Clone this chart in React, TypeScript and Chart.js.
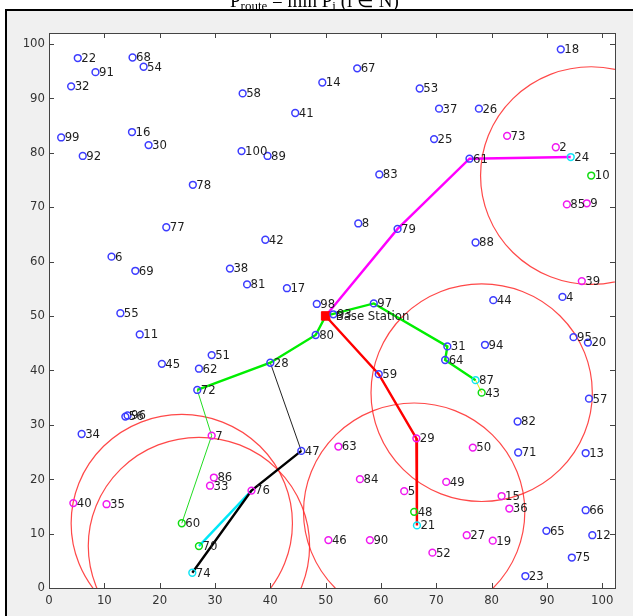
import React, { useEffect, useRef } from "react";
import { Chart, registerables } from "chart.js";

Chart.register(...registerables);

// ---------- data ----------
const xTicks = [0, 10, 20, 30, 40, 50, 60, 70, 80, 90, 100];
const yTicks = [0, 10, 20, 30, 40, 50, 60, 70, 80, 90, 100];

const baseStationX = 50;
const baseStationY = 50;
const baseStationLabel = "Base Station";

const blueIds = ["22", "91", "32", "68", "54", "99", "92", "16", "30", "78", "58", "14", "67", "41", "100", "89", "83", "53", "18", "37", "26", "25", "61", "77", "6", "69", "55", "11", "45", "62", "51", "72", "38", "8", "79", "42", "81", "17", "98", "97", "80", "28", "59", "88", "4", "44", "95", "20", "94", "31", "64", "57", "56", "96", "34", "47", "82", "71", "13", "66", "65", "12", "75", "23", "93"];
const blueX = [5.2, 8.4, 4.0, 15.1, 17.1, 2.2, 6.1, 15.0, 18.0, 26.0, 35.0, 49.4, 55.7, 44.5, 34.8, 39.5, 59.7, 67.0, 92.5, 70.5, 77.7, 69.6, 76.0, 21.2, 11.3, 15.6, 12.9, 16.4, 20.4, 27.1, 29.4, 26.8, 32.7, 55.9, 63.0, 39.1, 35.8, 43.0, 48.4, 58.7, 48.2, 40.0, 59.6, 77.1, 92.8, 80.3, 94.8, 97.4, 78.8, 72.0, 71.6, 97.6, 13.8, 14.2, 5.9, 45.6, 84.7, 84.8, 97.0, 97.0, 89.9, 98.2, 94.5, 86.1, 51.4];
const blueY = [97.4, 94.8, 92.2, 97.5, 95.8, 82.8, 79.4, 83.8, 81.4, 74.1, 90.9, 92.9, 95.5, 87.3, 80.3, 79.4, 76.0, 91.8, 99.0, 88.1, 88.1, 82.5, 78.9, 66.3, 60.9, 58.3, 50.5, 46.6, 41.2, 40.3, 42.8, 36.4, 58.7, 67.0, 66.0, 64.0, 55.8, 55.1, 52.2, 52.3, 46.5, 41.4, 39.3, 63.5, 53.5, 52.9, 46.1, 45.1, 44.7, 44.4, 41.9, 34.8, 31.5, 31.7, 28.3, 25.2, 30.6, 24.9, 24.8, 14.3, 10.5, 9.7, 5.6, 2.2, 50.3];

const magentaIds = ["73", "2", "85", "9", "39", "7", "86", "33", "40", "35", "76", "63", "84", "5", "46", "90", "29", "50", "49", "15", "36", "27", "19", "52"];
const magentaX = [82.8, 91.6, 93.6, 97.2, 96.3, 29.4, 29.8, 29.1, 4.4, 10.4, 36.6, 52.3, 56.2, 64.2, 50.5, 58.0, 66.4, 76.6, 71.8, 81.8, 83.2, 75.5, 80.2, 69.3];
const magentaY = [83.1, 81.0, 70.5, 70.7, 56.4, 28.0, 20.3, 18.8, 15.6, 15.4, 17.9, 26.0, 20.0, 17.8, 8.8, 8.8, 27.5, 25.8, 19.5, 16.9, 14.6, 9.7, 8.7, 6.5];

const greenIds = ["10", "43", "48", "60", "70"];
const greenX = [98.0, 78.2, 66.0, 24.0, 27.1];
const greenY = [75.8, 35.9, 14.0, 11.9, 7.7];

const cyanIds = ["24", "87", "21", "74"];
const cyanX = [94.3, 77.1, 66.5, 25.9];
const cyanY = [79.2, 38.2, 11.5, 2.8];

// routes (node id sequences)
const routeMagenta = ["BS", "79", "61", "24"];
const routeGreenRight = ["BS", "97", "31", "64", "87"];
const routeYellow = ["87", "43"];
const routeGreenLeft = ["BS", "80", "28", "72"];
const routeGreenThin = ["72", "7", "60"];
const routeBlackThin = ["28", "47"];
const routeBlack = ["47", "76", "74"];
const routeCyan = ["76", "70"];
const routeRed = ["BS", "59", "29", "21"];

// communication range circles around cluster heads
const rangeCenterIds = ["10", "43", "48", "60", "70"];
const rangeRadius = 20;

// ---------- helpers ----------
function lookup(id: string): { x: number; y: number } {
  if (id === "BS") return { x: baseStationX, y: baseStationY };
  const groups: [string[], number[], number[]][] = [
    [blueIds, blueX, blueY],
    [magentaIds, magentaX, magentaY],
    [greenIds, greenX, greenY],
    [cyanIds, cyanX, cyanY],
  ];
  for (const [ids, xs, ys] of groups) {
    const i = ids.indexOf(id);
    if (i >= 0) return { x: xs[i], y: ys[i] };
  }
  return { x: 0, y: 0 };
}

const FONT = "'Liberation Sans Narrow', 'DejaVu Sans Condensed', 'Liberation Sans', Arial, sans-serif";

function nodeSet(ids: string[], xs: number[], ys: number[], color: string) {
  return {
    label: "nodes",
    data: xs.map((x, i) => ({ x, y: ys[i] })),
    nodeLabels: ids,
    labelOffset: 3.5,
    pointRadius: 3.4,
    pointBorderWidth: 1.5,
    pointBorderColor: color,
    pointBackgroundColor: "rgba(0,0,0,0)",
    showLine: false,
    order: 0,
  };
}

function routeSet(ids: string[], color: string, width: number) {
  return {
    label: "route",
    data: ids.map((id) => lookup(id)),
    showLine: true,
    borderColor: color,
    borderWidth: width,
    pointRadius: 0,
    pointHoverRadius: 0,
    order: 2,
  };
}

const decorPlugin = {
  id: "decor",
  beforeDraw(chart: any) {
    const { ctx, chartArea: a, width, height } = chart;
    ctx.save();
    ctx.fillStyle = "#ffffff";
    ctx.fillRect(0, 0, width, height);
    ctx.fillStyle = "#f0f0f0";
    ctx.fillRect(6, 10, width, height);
    ctx.strokeStyle = "#000000";
    ctx.lineWidth = 2;
    ctx.strokeRect(6, 10, width + 20, height + 20);

    // clipped title
    ctx.fillStyle = "#000";
    ctx.textBaseline = "alphabetic";
    let tx = 230;
    const big = "19px 'Liberation Serif', serif";
    const small = "13px 'Liberation Serif', serif";
    const parts: [string, string, number][] = [
      ["P", big, 6.5],
      ["route", small, 9.5],
      [" = min P", big, 6.5],
      ["i", small, 9.5],
      [" (i \u2208 N)", big, 6.5],
    ];
    for (const [t, f, by] of parts) {
      ctx.font = f;
      ctx.fillText(t, tx, by);
      tx += ctx.measureText(t).width;
    }

    ctx.fillStyle = "#ffffff";
    ctx.fillRect(a.left, a.top, a.right - a.left, a.bottom - a.top);
    ctx.restore();
  },
  beforeDatasetsDraw(chart: any) {
    const { ctx, chartArea: a } = chart;
    const xs = chart.scales.x;
    const ys = chart.scales.y;
    ctx.save();
    ctx.beginPath();
    ctx.rect(a.left, a.top, a.right - a.left, a.bottom - a.top);
    ctx.clip();
    ctx.strokeStyle = "rgba(255,40,40,0.85)";
    ctx.lineWidth = 1.2;
    for (const id of rangeCenterIds) {
      const c = lookup(id);
      const px = xs.getPixelForValue(c.x);
      const py = ys.getPixelForValue(c.y);
      const rx = Math.abs(xs.getPixelForValue(c.x + rangeRadius) - px);
      const ry = Math.abs(py - ys.getPixelForValue(c.y + rangeRadius));
      ctx.beginPath();
      ctx.ellipse(px, py, rx, ry, 0, 0, Math.PI * 2);
      ctx.stroke();
    }
    ctx.restore();
  },
  afterDatasetsDraw(chart: any) {
    const { ctx, chartArea: a } = chart;
    ctx.save();
    ctx.font = "13px " + FONT;
    ctx.fillStyle = "#1e1e1e";
    ctx.textBaseline = "middle";
    ctx.textAlign = "left";
    chart.data.datasets.forEach((ds: any, di: number) => {
      if (!ds.nodeLabels) return;
      const meta = chart.getDatasetMeta(di);
      meta.data.forEach((el: any, i: number) => {
        ctx.fillText(ds.nodeLabels[i], el.x + ds.labelOffset, el.y + 0.5);
      });
    });
    // box and inward ticks
    const xs = chart.scales.x;
    const ys = chart.scales.y;
    ctx.strokeStyle = "#444";
    ctx.lineWidth = 1;
    ctx.strokeRect(Math.round(a.left) + 0.5, Math.round(a.top) + 0.5, Math.round(a.right - a.left), Math.round(a.bottom - a.top));
    ctx.beginPath();
    const tl = 5;
    for (const v of xTicks) {
      const p = Math.round(xs.getPixelForValue(v)) + 0.5;
      ctx.moveTo(p, a.bottom);
      ctx.lineTo(p, a.bottom - tl);
      ctx.moveTo(p, a.top);
      ctx.lineTo(p, a.top + tl);
    }
    for (const v of yTicks) {
      const p = Math.round(ys.getPixelForValue(v)) + 0.5;
      ctx.moveTo(a.left, p);
      ctx.lineTo(a.left + tl, p);
      ctx.moveTo(a.right, p);
      ctx.lineTo(a.right - tl, p);
    }
    ctx.stroke();
    ctx.restore();
  },
};

export default function App() {
  const ref = useRef<HTMLCanvasElement | null>(null);
  useEffect(() => {
    document.body.style.margin = "0";
    const canvas = ref.current;
    if (!canvas) return;
    const datasets: any[] = [
      nodeSet(blueIds, blueX, blueY, "#3c3cff"),
      nodeSet(magentaIds, magentaX, magentaY, "#f018f0"),
      nodeSet(greenIds, greenX, greenY, "#10dc10"),
      nodeSet(cyanIds, cyanX, cyanY, "#10e4f4"),
      {
        label: "bs",
        data: [{ x: baseStationX, y: baseStationY }],
        nodeLabels: [baseStationLabel],
        labelOffset: 10,
        pointStyle: "rect",
        pointRadius: 6,
        pointBorderWidth: 1,
        pointBorderColor: "#ff0000",
        pointBackgroundColor: "#ff0000",
        showLine: false,
        order: 1,
      },
      routeSet(routeMagenta, "#ff00ff", 2.4),
      routeSet(routeGreenRight, "#00ee00", 2.4),
      routeSet(routeYellow, "#e6e600", 1),
      routeSet(routeGreenLeft, "#00ee00", 2.4),
      routeSet(routeGreenThin, "#22dd22", 1),
      routeSet(routeBlackThin, "#222222", 1),
      routeSet(routeBlack, "#000000", 2.4),
      routeSet(routeCyan, "#00e8f8", 2.4),
      routeSet(routeRed, "#ff0000", 2.4),
    ];
    const chart = new Chart(canvas, {
      type: "scatter",
      data: { datasets },
      plugins: [decorPlugin],
      options: {
        animation: false,
        responsive: false,
        events: [],
        layout: { padding: { left: 0, top: 33, right: 18, bottom: 0 } },
        plugins: { legend: { display: false }, tooltip: { enabled: false }, title: { display: false } },
        scales: {
          x: {
            type: "linear",
            min: 0,
            max: 102.3,
            grid: { display: false, drawTicks: false },
            border: { display: false },
            afterBuildTicks: (s: any) => {
              s.ticks = xTicks.map((v) => ({ value: v }));
            },
            afterFit: (s: any) => {
              s.height = 28;
            },
            ticks: {
              autoSkip: false,
              maxRotation: 0,
              padding: 5,
              color: "#333",
              font: { family: FONT, size: 13 },
              callback: (v: any) => String(v),
            },
          },
          y: {
            type: "linear",
            min: 0,
            max: 102,
            grid: { display: false, drawTicks: false },
            border: { display: false },
            afterBuildTicks: (s: any) => {
              s.ticks = yTicks.map((v) => ({ value: v }));
            },
            afterFit: (s: any) => {
              s.width = 49;
            },
            ticks: {
              autoSkip: false,
              padding: 4,
              color: "#333",
              font: { family: FONT, size: 13 },
              callback: (v: any) => String(v),
            },
          },
        },
      },
    });
    return () => chart.destroy();
  }, []);
  return <canvas ref={ref} width={633} height={616} style={{ display: "block" }} />;
}
